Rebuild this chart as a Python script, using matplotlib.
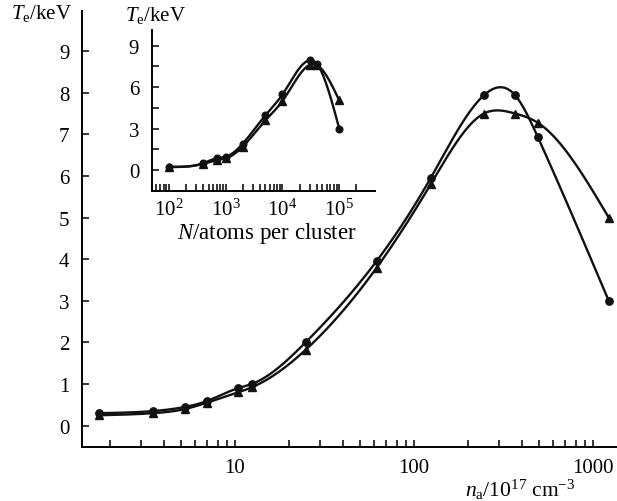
import numpy as np
import matplotlib
matplotlib.use("Agg")
import matplotlib.pyplot as plt
from matplotlib.ticker import FixedLocator, NullFormatter

plt.rcParams['font.family'] = ['Liberation Serif', 'DejaVu Serif']
plt.rcParams['mathtext.fontset'] = 'custom'
plt.rcParams['mathtext.rm'] = 'Liberation Serif'
plt.rcParams['mathtext.it'] = 'Liberation Serif:italic'

# main panel: electron temperature vs atom density
n_a = [1.74, 3.48, 5.26, 6.95, 10.4, 12.4, 24.8, 62.0, 124.0, 246.0, 367.0, 491.0, 1224.0]
te_circ = [0.30, 0.35, 0.45, 0.59, 0.90, 1.00, 2.00, 3.96, 5.95, 7.94, 7.94, 6.94, 3.00]
te_tri = [0.25, 0.30, 0.40, 0.55, 0.80, 0.92, 1.82, 3.80, 5.80, 7.50, 7.50, 7.28, 5.00]

# inset: electron temperature vs cluster size
n_atoms = [100, 400, 700, 1000, 2000, 5000, 1e4, 3e4, 4e4, 1e5]
te_circ_in = [0.24, 0.50, 0.86, 0.96, 1.92, 3.96, 5.47, 7.94, 7.70, 3.00]
te_tri_in = [0.22, 0.45, 0.72, 0.85, 1.70, 3.60, 5.00, 7.60, 7.60, 5.04]

main_yticks = list(range(10))
inset_yticks = [0, 3, 6, 9]

FS = 15


def spline(x, y, npts=300):
    # natural cubic spline in log10(x)
    t = np.log10(np.asarray(x, float))
    y = np.asarray(y, float)
    n = len(t)
    h = np.diff(t)
    A = np.zeros((n, n))
    r = np.zeros(n)
    A[0, 0] = A[-1, -1] = 1.0
    for i in range(1, n - 1):
        A[i, i - 1] = h[i - 1]
        A[i, i] = 2 * (h[i - 1] + h[i])
        A[i, i + 1] = h[i]
        r[i] = 6 * ((y[i + 1] - y[i]) / h[i] - (y[i] - y[i - 1]) / h[i - 1])
    M = np.linalg.solve(A, r)
    tt = np.linspace(t[0], t[-1], npts)
    k = np.clip(np.searchsorted(t, tt) - 1, 0, n - 2)
    a = t[k + 1] - tt
    b = tt - t[k]
    hk = h[k]
    yy = (M[k] * a**3 + M[k + 1] * b**3) / (6 * hk) \
        + (y[k] / hk - M[k] * hk / 6) * a + (y[k + 1] / hk - M[k + 1] * hk / 6) * b
    return 10**tt, yy


def style_axis(ax, lw):
    ax.spines['top'].set_visible(False)
    ax.spines['right'].set_visible(False)
    ax.spines['left'].set_linewidth(lw)
    ax.spines['bottom'].set_linewidth(lw)
    ax.tick_params(which='both', direction='in', length=5, width=1.1, color='black')


def draw_pair(ax, x, yc, yt, ms_c, ms_t, lw):
    for y, mk, ms in ((yc, 'o', ms_c), (yt, '^', ms_t)):
        xs, ys = spline(x, y)
        ax.plot(xs, ys, color='#111111', lw=lw, solid_capstyle='round')
        ax.plot(x, y, ls='none', marker=mk, ms=ms, color='#111111')


fig = plt.figure(figsize=(6.17, 5.02), dpi=100)

ax = fig.add_axes([82 / 617, 1 - 447.7 / 502, 535 / 617, 436 / 502])
ax.set_xscale('log')
draw_pair(ax, n_a, te_circ, te_tri, 5.3, 5.8, 1.7)
ax.set_xlim(1.40, 1361)
ax.set_ylim(-0.505, 9.97)
style_axis(ax, 1.4)
ax.xaxis.set_major_locator(FixedLocator([10, 100, 1000]))
ax.xaxis.set_minor_locator(FixedLocator([m * 10**d for d in range(0, 3) for m in range(2, 10)]))
ax.xaxis.set_minor_formatter(NullFormatter())
ax.set_xticklabels(['10', '100', '1000'])
ax.set_yticks(main_yticks)
ax.tick_params(axis='both', which='both', labelsize=FS)
ax.tick_params(axis='x', pad=8)
ax.tick_params(axis='y', pad=9)

fig.text(41 / 617, 1 - 14 / 502, r'$T_\mathrm{e}$/keV', ha='center', va='center', fontsize=FS)
fig.text(520 / 617, 1 - 490 / 502, r'$n_\mathrm{a}/10^{17}$ cm$^{-3}$', ha='center', va='center', fontsize=15.5)

# inset
ins = fig.add_axes([151.7 / 617, 1 - 191.7 / 502, 223.3 / 617, 161 / 502])
ins.set_xscale('log')
draw_pair(ins, n_atoms, te_circ_in, te_tri_in, 4.8, 5.3, 1.7)
ins.set_xlim(49.5, 4.27e5)
ins.set_ylim(-1.49, 10.15)
style_axis(ins, 1.4)
ins.xaxis.set_major_locator(FixedLocator([1e2, 1e3, 1e4, 1e5]))
ins_minor = [m * 10**d for d in range(1, 5) for m in range(2, 10)]
ins_minor = [v for v in ins_minor if v > 55] + [2e5]
ins.xaxis.set_minor_locator(FixedLocator(ins_minor))
ins.xaxis.set_minor_formatter(NullFormatter())
ins.set_xticklabels([r'$10^2$', r'$10^3$', r'$10^4$', r'$10^5$'])
ins.set_yticks(inset_yticks)
ins.yaxis.set_minor_locator(FixedLocator([1.5, 4.5, 7.5]))
ins.tick_params(axis='both', which='both', labelsize=FS)
ins.tick_params(axis='x', pad=6)
ins.tick_params(axis='y', pad=9)

fig.text(155 / 617, 1 - 16 / 502, r'$T_\mathrm{e}$/keV', ha='center', va='center', fontsize=FS)
fig.text(267 / 617, 1 - 234 / 502, r'$N$/atoms per cluster', ha='center', va='center', fontsize=16.5)

fig.savefig('out.png', dpi=100)
